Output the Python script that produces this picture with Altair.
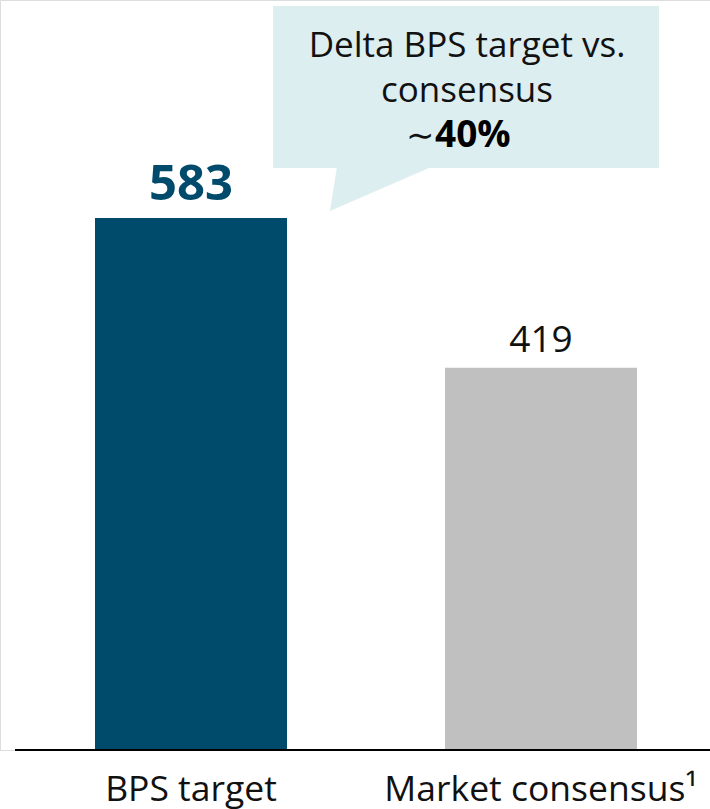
import altair as alt
import pandas as pd

categories = ["BPS target", "Market consensus\u00b9"]
values = [583, 419]
bar_colors = ["#004b6c", "#c0c0c0"]
callout_lines = ["Delta BPS target vs.", "consensus"]
callout_prefix = "\u223c"
callout_value = "40%"

FONT = "Open Sans"
df = pd.DataFrame({"cat": categories, "val": values})

x_enc = alt.X("cat:N", sort=categories,
              scale=alt.Scale(paddingInner=0.4514, paddingOuter=0.24, align=0.5655),
              axis=alt.Axis(title=None, domain=False, ticks=False, labelAngle=0,
                            labelFontSize=35.5, labelFont=FONT, labelColor="#111111",
                            labelBaseline="alphabetic", labelPadding=50, labelLimit=0))
y_enc = alt.Y("val:Q", scale=alt.Scale(domain=[0, 822], nice=False, zero=True),
              axis=None)

base = alt.Chart(df)

bars = base.mark_bar().encode(
    x=x_enc, y=y_enc,
    color=alt.Color("cat:N", scale=alt.Scale(domain=categories, range=bar_colors), legend=None),
)

lab1 = base.transform_filter(alt.datum.cat == categories[0]).mark_text(
    font=FONT, fontSize=49, fontWeight="bold", color="#004b6c", baseline="alphabetic", dy=-18
).encode(x=alt.X("cat:N", sort=categories), y="val:Q", text="val:Q")

lab2 = base.transform_filter(alt.datum.cat == categories[1]).mark_text(
    font=FONT, fontSize=37, color="#111111", baseline="alphabetic", dy=-16
).encode(x=alt.X("cat:N", sort=categories), y="val:Q", text="val:Q")

baseline_rule = base.mark_rule(color="#000000", strokeWidth=2).encode(
    x=alt.value(15), x2=alt.value(710), y=alt.datum(0))

box = alt.Chart(pd.DataFrame({"k": [0]})).mark_rect(color="#ddeef0").encode(
    x=alt.value(273), x2=alt.value(659), y=alt.value(6), y2=alt.value(168))

tail = alt.Chart(pd.DataFrame({"k": [0]})).mark_point(
    shape="M-0.864,-0.45L1,-0.45L-1,0.417Z", filled=True, opacity=1,
    color="#ddeef0", strokeWidth=0, size=10609
).encode(x=alt.value(381.5), y=alt.value(189.5))

t_lines = [
    alt.Chart(pd.DataFrame({"t": [callout_lines[0]]})).mark_text(
        font=FONT, fontSize=35, color="#111111", baseline="alphabetic", align="center"
    ).encode(x=alt.value(467), y=alt.value(57), text="t:N"),
    alt.Chart(pd.DataFrame({"t": [callout_lines[1]]})).mark_text(
        font=FONT, fontSize=35, color="#111111", baseline="alphabetic", align="center"
    ).encode(x=alt.value(467), y=alt.value(102), text="t:N"),
    alt.Chart(pd.DataFrame({"t": [callout_prefix]})).mark_text(
        font=FONT, fontSize=34, color="#111111", baseline="alphabetic", align="right"
    ).encode(x=alt.value(434), y=alt.value(147), text="t:N"),
    alt.Chart(pd.DataFrame({"t": [callout_value]})).mark_text(
        font=FONT, fontSize=37, fontWeight="bold", color="#000000", baseline="alphabetic", align="left"
    ).encode(x=alt.value(435), y=alt.value(147), text="t:N"),
]

chart = alt.layer(bars, baseline_rule, lab1, lab2, box, tail, *t_lines).properties(
    width=710, height=750,
    autosize=alt.AutoSizeParams(type="none"),
    padding={"left": 0, "top": 0, "right": 0, "bottom": 59},
).configure_view(stroke=None).configure(background="white")

chart.save("out.html", embed_options={"renderer": "svg", "actions": False})
